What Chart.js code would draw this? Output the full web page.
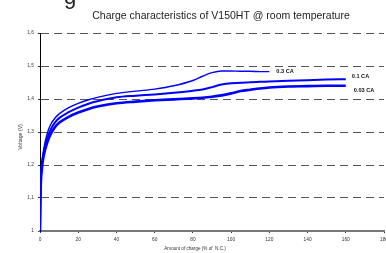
<!DOCTYPE html>
<html>
<head>
<meta charset="utf-8">
<script src="https://cdn.jsdelivr.net/npm/chart.js@4.4.1/dist/chart.umd.min.js"></script>
<style>
  html, body { margin: 0; padding: 0; background: #fff; overflow: hidden; }
  #wrap { width: 400px; height: 253px; position: relative; }
</style>
</head>
<body>
<div id="wrap"><canvas id="chargeChart"></canvas></div>
<script>
// amount of charge (% of N.C.)
const charge = [0, 0.3, 1, 2, 4, 6, 8, 10, 15, 20, 25, 30, 40, 50, 60, 70, 80, 85, 90, 95, 100, 105, 110, 115, 120, 130, 140, 150, 160];

// voltage (V) per charge rate
const v03 = [1.0, 1.15, 1.21, 1.25, 1.3, 1.327, 1.343, 1.355, 1.374, 1.387, 1.397, 1.405, 1.417, 1.424, 1.43, 1.44, 1.456, 1.469, 1.48, 1.485, 1.485, 1.484, 1.484, 1.483, 1.483, null, null, null, null];
const v01 = [1.0, 1.13, 1.2, 1.24, 1.285, 1.312, 1.33, 1.342, 1.36, 1.374, 1.385, 1.393, 1.405, 1.41, 1.414, 1.419, 1.425, 1.429, 1.436, 1.444, 1.448, 1.449, 1.451, 1.452, 1.453, 1.455, 1.457, 1.459, 1.46];
const v003 = [1.0, 1.12, 1.19, 1.23, 1.272, 1.298, 1.316, 1.328, 1.346, 1.359, 1.369, 1.377, 1.387, 1.392, 1.396, 1.399, 1.402, 1.404, 1.407, 1.411, 1.417, 1.424, 1.428, 1.432, 1.435, 1.438, 1.439, 1.44, 1.44];

const seriesNames = ["0.3 CA", "0.1 CA", "0.03 CA"];
const xTicks = [0, 20, 40, 60, 80, 100, 120, 140, 160, 180];
const yTicks = [1.0, 1.1, 1.2, 1.3, 1.4, 1.5, 1.6];

function toPoints(ys) {
  return charge.map((x, i) => ({ x: x, y: ys[i] }));
}

// labels, title and the cut-off letter at the top
const textPlugin = {
  id: "textPlugin",
  afterDraw(chart) {
    const ctx = chart.ctx;
    const xs = chart.scales.x, ys = chart.scales.y;
    ctx.save();
    ctx.fillStyle = "#222";
    ctx.font = "22px 'Liberation Sans', Arial";
    ctx.textBaseline = "alphabetic";
    ctx.textAlign = "left";
    ctx.fillText("g", 64, 4);

    ctx.font = "10.5px 'Liberation Sans', Arial";
    ctx.textAlign = "center";
    ctx.textBaseline = "middle";
    ctx.fillText("Charge characteristics of V150HT @ room temperature", 221, 16);

    ctx.fillStyle = "#333";
    ctx.font = "4.6px 'Liberation Sans', Arial";
    ctx.fillText("Amount of charge (% of  N.C.)", 195, 249);

    ctx.save();
    ctx.translate(21, 137);
    ctx.rotate(-Math.PI / 2);
    ctx.font = "5.2px 'Liberation Sans', Arial";
    ctx.fillText("Voltage (V)", 0, 0);
    ctx.restore();

    // series labels next to the curve ends
    ctx.fillStyle = "#111";
    ctx.font = "bold 5.6px 'Liberation Sans', Arial";
    ctx.textAlign = "left";
    ctx.fillText(seriesNames[0], xs.getPixelForValue(120) + 7, ys.getPixelForValue(1.483));
    ctx.fillText(seriesNames[1], xs.getPixelForValue(160) + 6, ys.getPixelForValue(1.469));
    ctx.fillText(seriesNames[2], xs.getPixelForValue(160) + 8, ys.getPixelForValue(1.427));
    ctx.restore();
  }
};

const ctx = document.getElementById("chargeChart").getContext("2d");
new Chart(ctx, {
  type: "line",
  data: {
    datasets: [
      { label: seriesNames[0], data: toPoints(v03), borderColor: "#0000ff", borderWidth: 1.4 },
      { label: seriesNames[1], data: toPoints(v01), borderColor: "#0000ff", borderWidth: 2 },
      { label: seriesNames[2], data: toPoints(v003), borderColor: "#0000ff", borderWidth: 2.6 }
    ]
  },
  options: {
    responsive: true,
    maintainAspectRatio: false,
    animation: false,
    layout: { padding: { top: 33, right: 16, left: 0, bottom: 0 } },
    elements: {
      point: { radius: 0 },
      line: { cubicInterpolationMode: "monotone", fill: false }
    },
    plugins: {
      legend: { display: false },
      title: { display: false },
      tooltip: { enabled: false }
    },
    scales: {
      x: {
        type: "linear",
        min: 0,
        max: 180,
        afterBuildTicks: s => { s.ticks = xTicks.map(v => ({ value: v })); },
        afterFit: s => { s.height = 22; },
        border: { display: true, color: "#777", width: 2 },
        grid: { drawOnChartArea: false, drawTicks: true, tickLength: 2, tickColor: "#333", tickWidth: 1 },
        ticks: {
          color: "#333",
          font: { size: 4.8, family: "'Liberation Sans', Arial" },
          padding: 4,
          maxRotation: 0
        }
      },
      y: {
        min: 1.0,
        max: 1.6,
        afterBuildTicks: s => { s.ticks = yTicks.map(v => ({ value: v })); },
        afterFit: s => { s.width = 40; },
        border: { display: true, color: "#000", width: 1, dash: [8, 5] },
        grid: {
          color: "#555",
          lineWidth: 1,
          tickLength: 2,
          tickColor: "#333",
          tickBorderDash: []
        },
        ticks: {
          color: "#333",
          font: { size: 4.8, family: "'Liberation Sans', Arial" },
          padding: 4,
          callback: v => (Math.round(v * 10) / 10).toString().replace(".", ",")
        }
      }
    }
  },
  plugins: [textPlugin]
});
</script>
</body>
</html>
